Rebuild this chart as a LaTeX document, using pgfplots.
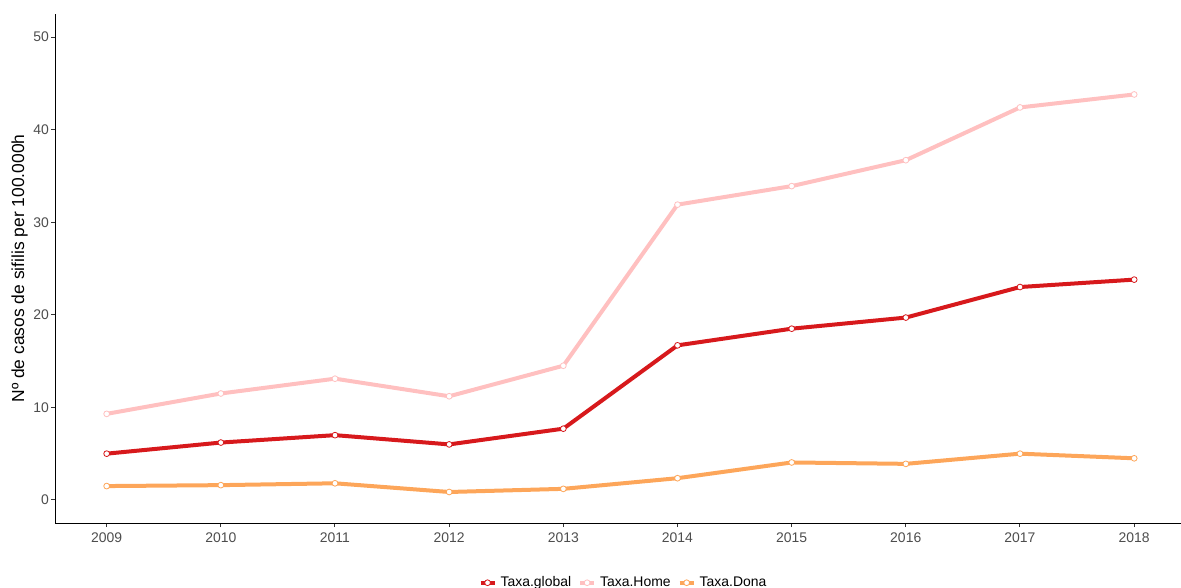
\documentclass[border=0pt]{standalone}
\usepackage{fontspec}
\setmainfont{Liberation Sans}
\usepackage{pgfplots}
\pgfplotsset{compat=1.18}
\definecolor{cglobal}{RGB}{215,25,28}
\definecolor{chome}{RGB}{255,192,192}
\definecolor{cdona}{RGB}{253,166,90}
\definecolor{tickgray}{RGB}{77,77,77}
\begin{document}
\begin{tikzpicture}
\path[use as bounding box] (-27.65bp,-32.45bp) rectangle (562.85bp,261.55bp);
\begin{axis}[
  at={(0,0)}, anchor=south west,
  scale only axis, width=562.85bp, height=254.6bp,
  xmin=2008.55, xmax=2018.41, ymin=-2.5, ymax=52.5,
  axis x line*=bottom, axis y line*=left,
  axis line style={black, line width=0.5bp},
  xtick={2009,...,2018}, ytick={0,10,...,50},
  tick align=outside, major tick length=2bp,
  tick style={color=black!80, line width=0.5bp},
  minor tick num=0,
  /pgf/number format/assume math mode=true,
  /pgf/number format/1000 sep={},
  ticklabel style={font=\fontsize{7}{8}\selectfont, text=tickgray, inner sep=0pt},
  xticklabel style={yshift=-2.5bp},
  yticklabel style={xshift=-1bp},
  ylabel={Nº de casos de sifilis per 100.000h},
  ylabel style={at={(axis description cs:-0.0278,0.5)}, anchor=base, font=\fontsize{8.75}{10}\selectfont, inner sep=0pt},
  legend style={at={(0.5056,-0.1171)}, anchor=center, draw=none, fill=none,
    font=\fontsize{7}{8}\selectfont, inner sep=0pt, outer sep=0pt,
    /tikz/every even column/.append style={column sep=1.5bp},
    nodes={inner xsep=2bp, inner ysep=0.5bp}},
  legend columns=3,
  legend image code/.code={\draw[mark repeat=2,mark phase=2,#1] plot coordinates {(0bp,0bp) (3.5bp,0bp) (7bp,0bp)};},
]
\addplot[cglobal, line width=2bp, mark=*, mark size=1.45bp, mark options={fill=white, draw=cglobal, line width=0.4bp}]
  coordinates {(2009,5.0)(2010,6.2)(2011,7.0)(2012,6.0)(2013,7.7)(2014,16.7)(2015,18.5)(2016,19.7)(2017,23.0)(2018,23.8)};
\addlegendentry{Taxa.global}
\addplot[chome, line width=2bp, mark=*, mark size=1.45bp, mark options={fill=white, draw=chome, line width=0.4bp}]
  coordinates {(2009,9.3)(2010,11.5)(2011,13.1)(2012,11.2)(2013,14.5)(2014,31.9)(2015,33.9)(2016,36.7)(2017,42.4)(2018,43.8)};
\addlegendentry{Taxa.Home}
\addplot[cdona, line width=2bp, mark=*, mark size=1.45bp, mark options={fill=white, draw=cdona, line width=0.4bp}]
  coordinates {(2009,1.5)(2010,1.6)(2011,1.8)(2012,0.86)(2013,1.2)(2014,2.35)(2015,4.05)(2016,3.9)(2017,5.0)(2018,4.5)};
\addlegendentry{Taxa.Dona}
\end{axis}
\end{tikzpicture}
\end{document}
